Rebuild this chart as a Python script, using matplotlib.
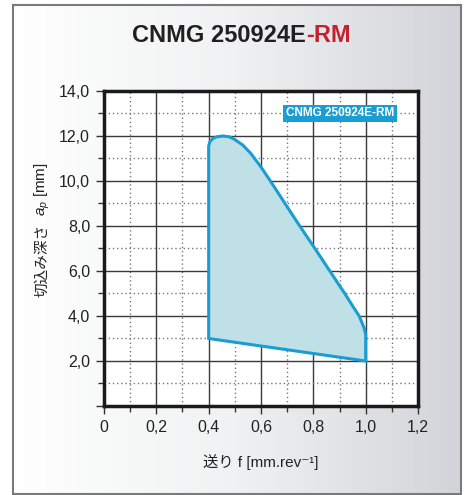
import numpy as np
import matplotlib

matplotlib.use('Agg')
import matplotlib.pyplot as plt
from matplotlib.ticker import MultipleLocator, FuncFormatter
from matplotlib.patches import Rectangle

plt.rcParams['font.family'] = ['Liberation Sans', 'Noto Sans CJK JP', 'DejaVu Sans']
plt.rcParams['mathtext.fontset'] = 'custom'
plt.rcParams['mathtext.rm'] = 'Liberation Sans'
plt.rcParams['mathtext.it'] = 'Liberation Sans:italic'

TITLE_MAIN = "CNMG 250924E"
TITLE_SUFFIX = "-RM"
LEGEND_LABEL = "CNMG 250924E-RM"
XLABEL = "送り f [mm.rev⁻¹]"
YLABEL_JP = "切込み深さ"
YLABEL_SYM = "$a_p$ [mm]"

# outline of the chipbreaker range (feed f, depth ap)
feed = [0.40, 0.40, 0.405, 0.415, 0.43, 0.455, 0.48, 0.50, 0.53, 0.56, 0.60, 0.63,
        0.66, 0.69, 0.748, 0.806, 0.863, 0.92, 0.95, 0.975, 0.993, 1.00, 1.00, 0.40]
depth = [3.00, 11.55, 11.75, 11.88, 11.96, 12.00, 11.96, 11.84, 11.60, 11.24, 10.62, 10.10,
         9.57, 9.03, 8.00, 7.00, 6.00, 5.00, 4.45, 4.00, 3.50, 3.20, 2.00, 3.00]

LINE_COL = '#1a9dd2'
FILL_COL = '#bfe0e6'

fig = plt.figure(figsize=(4.68, 4.95), dpi=100)

# gradient background with frame
bg = fig.add_axes([0, 0, 1, 1], zorder=-5)
grad = np.linspace(0, 1, 256)[None, :]
cmap = matplotlib.colors.LinearSegmentedColormap.from_list('bg', ['#ffffff', '#f0f1f2', '#d2d4d9'])
bg.imshow(grad, aspect='auto', cmap=cmap, extent=[13, 461, 1, 490])
bg.add_patch(Rectangle((13, 1), 448, 489, fill=False, edgecolor='#7a7a7a', lw=1.5))
bg.set_xlim(0, 468)
bg.set_ylim(0, 495)
bg.axis('off')

fig.text(0.654, 0.929, TITLE_MAIN, ha='right', va='center', fontsize=17, fontweight='bold',
         color='#231f20')
fig.text(0.654, 0.929, TITLE_SUFFIX, ha='left', va='center', fontsize=17, fontweight='bold',
         color='#c4212f')

ax = fig.add_axes([0.2222, 0.1798, 0.6710, 0.6364])
ax.set_facecolor('white')
ax.set_xlim(0, 1.2)
ax.set_ylim(0, 14)

ax.xaxis.set_major_locator(MultipleLocator(0.2))
ax.xaxis.set_minor_locator(MultipleLocator(0.1))
ax.yaxis.set_major_locator(MultipleLocator(2))
ax.yaxis.set_minor_locator(MultipleLocator(1))

ax.xaxis.set_major_formatter(FuncFormatter(lambda v, p: '0' if abs(v) < 1e-9 else f'{v:.1f}'.replace('.', ',')))
ax.yaxis.set_major_formatter(FuncFormatter(lambda v, p: '' if abs(v) < 1e-9 else f'{v:.1f}'.replace('.', ',')))

ax.grid(which='major', color='#3a3a3a', lw=1.0)
ax.grid(which='minor', color='#777777', lw=1.0, linestyle=(0, (1, 2)))
ax.set_axisbelow(True)

ax.tick_params(which='major', length=6, width=1, color='#333333', labelsize=11.5, labelcolor='#222222', pad=4)
ax.tick_params(which='minor', length=4, width=1, color='#333333')
for s in ax.spines.values():
    s.set_linewidth(2.5)
    s.set_color('#1a1a1a')

ax.fill(feed, depth, facecolor=FILL_COL, edgecolor=LINE_COL, lw=2.2, zorder=3)

ax.text(0.902, 13.0, LEGEND_LABEL, ha='center', va='center', fontsize=8.5, fontweight='bold',
        color='white', zorder=5,
        bbox=dict(boxstyle='square,pad=0.25', facecolor='#1a9dd2', edgecolor='none'))

ax.set_xlabel(XLABEL, fontsize=11, color='#222222', labelpad=14)

# y label in two pieces (CJK text + math symbol)
fig.text(0.09, 0.474, YLABEL_JP, rotation=90, ha='center', va='center', fontsize=10.5,
         color='#222222', family=['Noto Sans CJK JP'])
fig.text(0.09, 0.618, YLABEL_SYM, rotation=90, ha='center', va='center', fontsize=11,
         color='#222222')

fig.savefig('out.png', dpi=100)
